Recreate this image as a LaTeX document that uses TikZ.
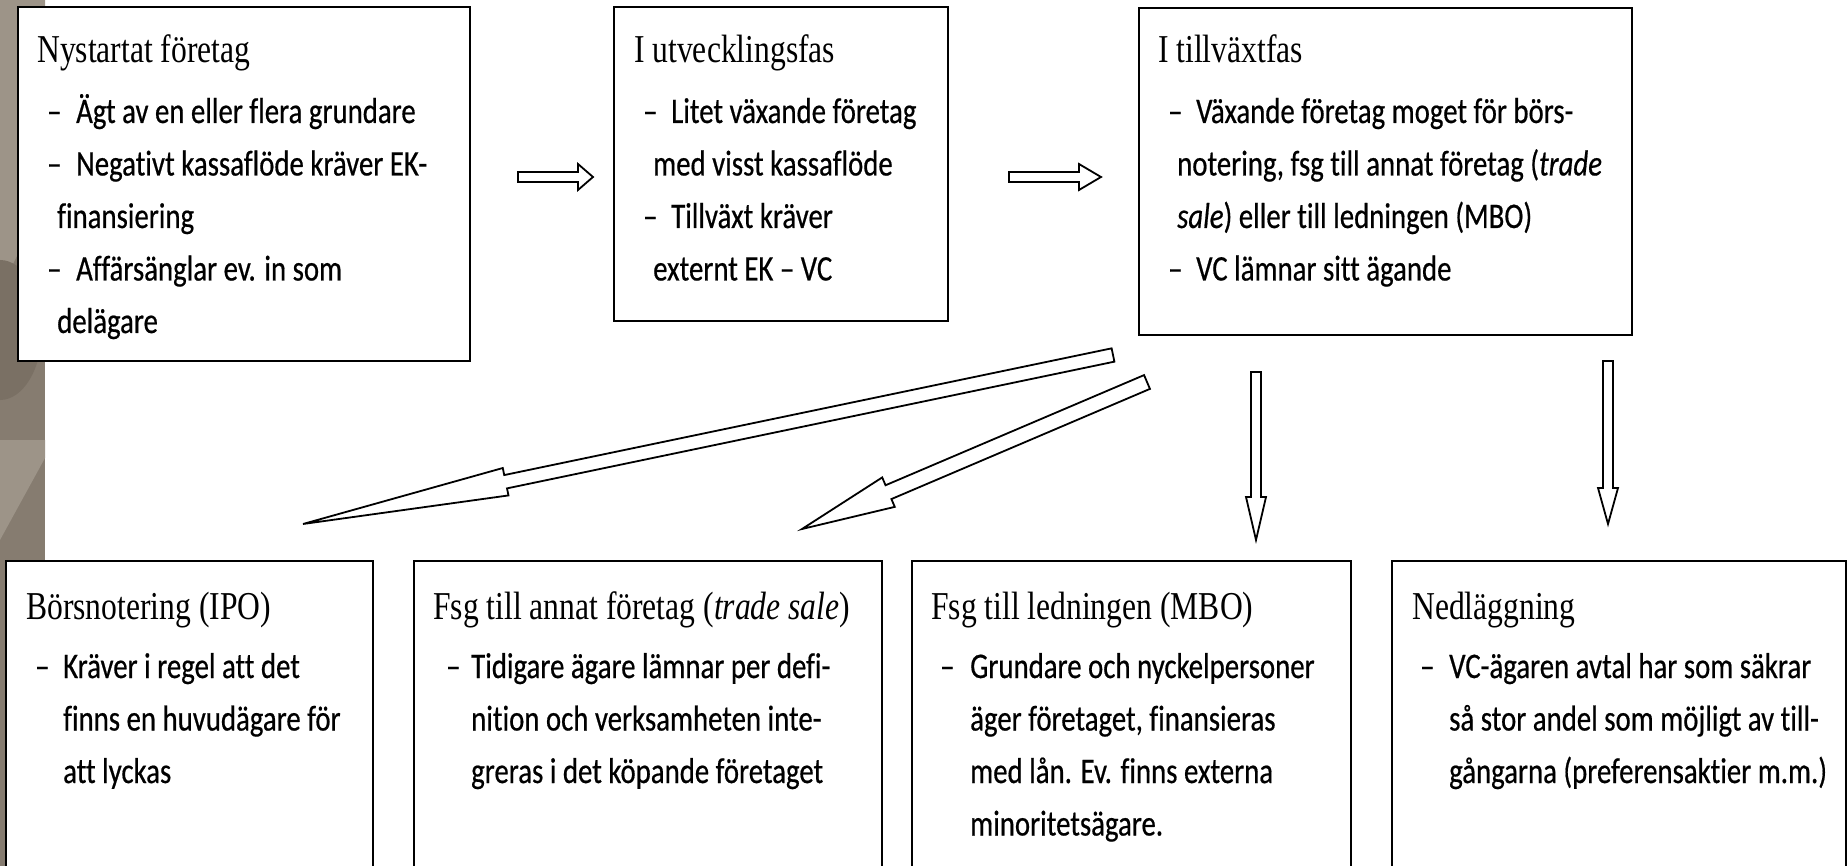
\documentclass[tikz,border=0pt]{standalone}
\usepackage{fontspec}
\newfontfamily\ttlfont[FakeStretch=0.8]{Liberation Serif}
\newfontfamily\bdyfont[FakeStretch=0.8,FakeBold=0.5,RawFeature={-liga;-calt}]{Carlito}
\usetikzlibrary{calc}
\definecolor{stripbase}{RGB}{134,124,112}
\definecolor{striplight}{RGB}{157,148,136}
\definecolor{stripdark}{RGB}{122,112,100}
\tikzset{
  boxframe/.style={draw=black, line width=2pt, fill=white, anchor=north west, inner sep=0pt},
  ttl/.style={anchor=base west, inner sep=0pt, font=\ttlfont\fontsize{39.5}{44}\selectfont},
  bdy/.style={anchor=base west, inner sep=0pt, font=\bdyfont\fontsize{36}{40}\selectfont},
  arrowline/.style={draw=black, line width=1.8pt, fill=white, line join=miter},
}
\newcommand{\blockarrow}[5]{%
  \coordinate (hb) at ($(#2)!#5!(#1)$);
  \draw[arrowline] ($(#1)!#3!90:(#2)$) -- ($(hb)!#3!90:(#2)$) -- ($(hb)!#4!90:(#2)$) -- (#2)
    -- ($(hb)!#4!-90:(#2)$) -- ($(hb)!#3!-90:(#2)$) -- ($(#1)!#3!-90:(#2)$) -- cycle;}
\begin{document}
\begin{tikzpicture}[x=1pt,y=-1pt]
\useasboundingbox (0,0) rectangle (1847,866);
\clip (0,0) rectangle (1847,866);
\fill[white] (0,0) rectangle (1847,866);
% decorative strip on the left
\fill[stripbase] (0,0) rectangle (45,866);
\fill[striplight] (0,0) -- (45,0) -- (45,200) -- (0,290) -- cycle;
\fill[stripdark] (0,330) ellipse (42pt and 70pt);
\fill[striplight] (0,440) -- (45,440) -- (45,458) -- (0,540) -- cycle;

% top boxes
\node[boxframe, minimum width=452pt, minimum height=354pt] (b1) at (17,6) {};
\node[boxframe, minimum width=334pt, minimum height=314pt] (b2) at (613,6) {};
\node[boxframe, minimum width=493pt, minimum height=327pt] (b3) at (1138,7) {};
% bottom boxes
\node[boxframe, minimum width=367pt, minimum height=330pt] (c1) at (5,560) {};
\node[boxframe, minimum width=468pt, minimum height=330pt] (c2) at (413,560) {};
\node[boxframe, minimum width=439pt, minimum height=330pt] (c3) at (911,560) {};
\node[boxframe, minimum width=454pt, minimum height=330pt] (c4) at (1391,560) {};

% box 1 text
\node[ttl] (b1t) at (37,63) {Nystartat företag};
\node[bdy] (b1d1) at (47,123) {–};
\node[bdy] (b1l1) at (76,123) {Ägt av en eller flera grundare};
\node[bdy] (b1d2) at (47,175.5) {–};
\node[bdy] (b1l2) at (76,175.5) {Negativt kassaflöde kräver EK-};
\node[bdy] (b1l3) at (57,228) {finansiering};
\node[bdy] (b1d3) at (47,280.5) {–};
\node[bdy] (b1l4) at (76,280.5) {Affärsänglar ev. in som};
\node[bdy] (b1l5) at (57,333) {delägare};

% box 2 text
\node[ttl] (b2t) at (634,63) {I utvecklingsfas};
\node[bdy] (b2d1) at (643,123) {–};
\node[bdy] (b2l1) at (671,123) {Litet växande företag};
\node[bdy] (b2l2) at (653,175.5) {med visst kassaflöde};
\node[bdy] (b2d2) at (643,228) {–};
\node[bdy] (b2l3) at (671,228) {Tillväxt kräver};
\node[bdy] (b2l4) at (653,280.5) {externt EK – VC};

% box 3 text
\node[ttl] (b3t) at (1158,63) {I tillväxtfas};
\node[bdy] (b3d1) at (1168,123) {–};
\node[bdy] (b3l1) at (1196,123) {Växande företag moget för börs-};
\node[bdy] (b3l2) at (1177,175.5) {notering, fsg till annat företag (\textit{trade}};
\node[bdy] (b3l3) at (1177,228) {\textit{sale}) eller till ledningen (MBO)};
\node[bdy] (b3d2) at (1168,280.5) {–};
\node[bdy] (b3l4) at (1196,280.5) {VC lämnar sitt ägande};

% bottom box 1
\node[ttl] (c1t) at (26,619) {Börsnotering (IPO)};
\node[bdy] (c1d1) at (35,678) {–};
\node[bdy] (c1l1) at (63,678) {Kräver i regel att det};
\node[bdy] (c1l2) at (63,730.5) {finns en huvudägare för};
\node[bdy] (c1l3) at (63,783) {att lyckas};

% bottom box 2
\node[ttl] (c2t) at (433,619) {Fsg till annat företag (\textit{trade sale})};
\node[bdy] (c2d1) at (446,678) {–};
\node[bdy] (c2l1) at (471,678) {Tidigare ägare lämnar per defi-};
\node[bdy] (c2l2) at (471,730.5) {nition och verksamheten inte-};
\node[bdy] (c2l3) at (471,783) {greras i det köpande företaget};

% bottom box 3
\node[ttl] (c3t) at (931,619) {Fsg till ledningen (MBO)};
\node[bdy] (c3d1) at (940,678) {–};
\node[bdy] (c3l1) at (970,678) {Grundare och nyckelpersoner};
\node[bdy] (c3l2) at (970,730.5) {äger företaget, finansieras};
\node[bdy] (c3l3) at (970,783) {med lån. Ev. finns externa};
\node[bdy] (c3l4) at (970,835.5) {minoritetsägare.};

% bottom box 4
\node[ttl] (c4t) at (1412,619) {Nedläggning};
\node[bdy] (c4d1) at (1420,678) {–};
\node[bdy] (c4l1) at (1449,678) {VC-ägaren avtal har som säkrar};
\node[bdy] (c4l2) at (1449,730.5) {så stor andel som möjligt av till-};
\node[bdy] (c4l3) at (1449,783) {gångarna (preferensaktier m.m.)};

% block arrows
\coordinate (a1s) at (518,177);  \coordinate (a1e) at (593,177);
\coordinate (a2s) at (1009,177); \coordinate (a2e) at (1101,177);
\coordinate (aAs) at (1113,355); \coordinate (aAe) at (303,524);
\coordinate (aBs) at (1147,382); \coordinate (aBe) at (802,529);
\coordinate (aCs) at (1256,372); \coordinate (aCe) at (1256,540);
\coordinate (aDs) at (1608,361); \coordinate (aDe) at (1608,524);
\blockarrow{a1s}{a1e}{5pt}{13pt}{15pt}
\blockarrow{a2s}{a2e}{5pt}{13pt}{22pt}
\blockarrow{aAs}{aAe}{6.8pt}{14pt}{207pt}
\blockarrow{aBs}{aBe}{7.5pt}{16pt}{94pt}
\blockarrow{aCs}{aCe}{5pt}{10pt}{43pt}
\blockarrow{aDs}{aDe}{5pt}{10pt}{36pt}
\end{tikzpicture}
\end{document}
